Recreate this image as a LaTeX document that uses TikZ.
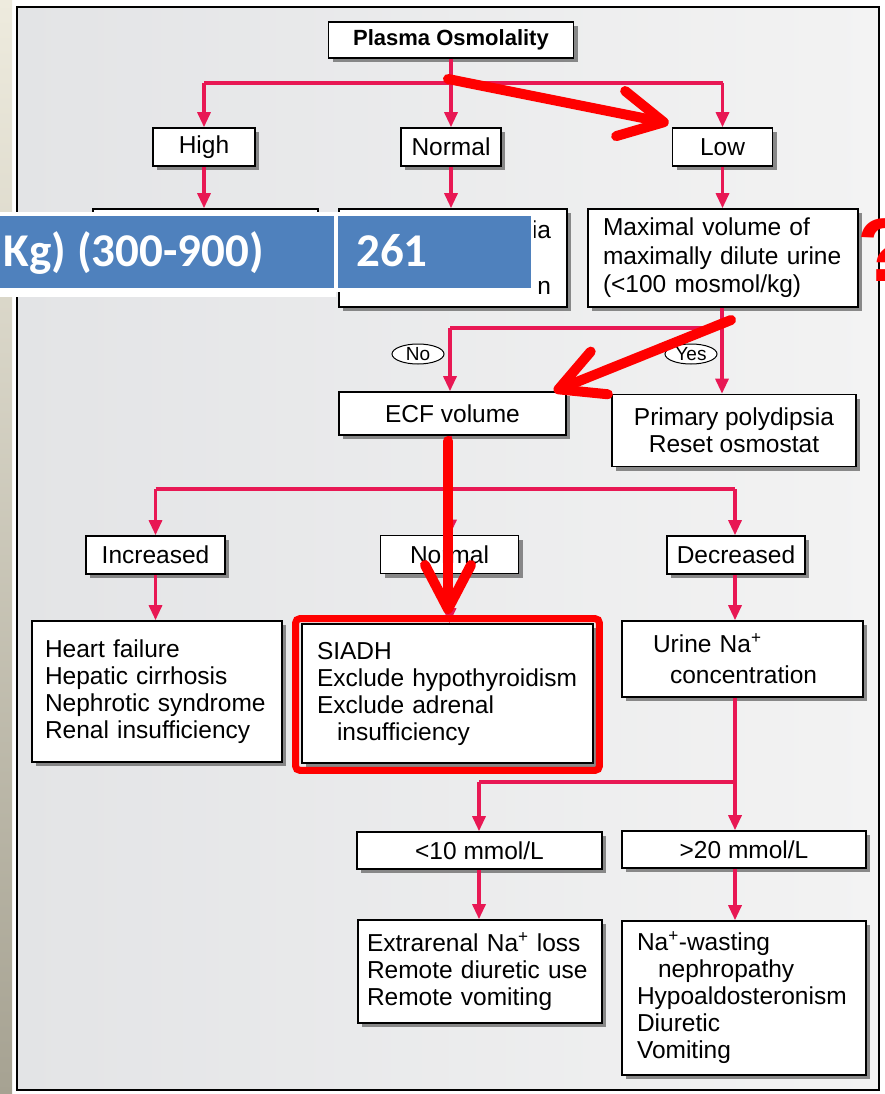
\documentclass[tikz,border=0pt]{standalone}
\usepackage{fontspec}
\setmainfont{Liberation Sans}
\newfontfamily\slidefont{Carlito}
\usetikzlibrary{arrows.meta,shadows,shapes.geometric}

\definecolor{linkpink}{RGB}{232,24,84}
\definecolor{panelleft}{RGB}{227,228,230}
\definecolor{panelright}{RGB}{243,243,243}
\definecolor{striptop}{RGB}{238,235,222}
\definecolor{stripbottom}{RGB}{166,162,146}
\definecolor{slideblue}{RGB}{79,129,189}

\begin{document}
\begin{tikzpicture}[
        x=1pt, y=-1pt,
        box/.style={draw=black, line width=1.6pt, fill=white,
            drop shadow={shadow xshift=4pt, shadow yshift=-4pt, fill=black!60, opacity=0.75},
            inner xsep=13pt, inner ysep=3pt, font=\fontsize{24.5}{27}\selectfont},
        tag/.style={box, inner xsep=6pt, minimum height=38pt},
        answer/.style={ellipse, draw=black, line width=1pt, fill=white, inner sep=0pt,
            minimum width=52pt, minimum height=20pt, font=\fontsize{19}{19}\selectfont},
        flow/.style={draw=linkpink, line width=3.2pt},
        flowto/.style={flow, -{Triangle[length=15pt,width=13pt]}},
        hint/.style={draw=red, line width=10pt, line cap=round,
            -{Straight Barb[length=44pt,width=46pt,round]}},
        cell/.style={text=white, inner sep=0pt, font=\slidefont\bfseries\fontsize{47}{47}\selectfont}
    ]
    \useasboundingbox (0,0) rectangle (885,1094);

    % slide background and panel
    \fill[white] (0,0) rectangle (885,1094);
    \shade[top color=striptop, bottom color=stripbottom] (0,0) rectangle (12,1094);
    \shadedraw[left color=panelleft, right color=panelright, draw=black, line width=1.5pt]
        (17,7) rectangle (879,1090);

    % first level
    \node[box, font=\bfseries\fontsize{22}{22}\selectfont, minimum width=245pt, minimum height=36pt] (plasma) at (451,40) {Plasma Osmolality};
    \node[tag, minimum width=102pt] (high) at (204,147) {High};
    \node[tag, minimum width=100pt] (normal) at (451,147) {Normal};
    \node[tag, minimum width=100pt] (low) at (722.5,147) {Low};

    % second level
    \node[box, minimum width=225pt, minimum height=76pt] (hiBox) at (205.5,247) {};
    \node[box, text width=196pt, inner xsep=16pt, minimum height=98pt, align=right,
        font=\fontsize{24.5}{28}\selectfont] (normBox) at (453,258) {ia\\\strut\\n};
    \node[box, text width=240pt, inner xsep=15pt, minimum height=98pt, align=left,
        font=\fontsize{24.5}{28.5}\selectfont] (maxBox) at (723,258)
        {Maximal volume of\\maximally dilute urine\\(<100 mosmol/kg)};

    \node[answer] (no) at (418,354) {No};
    \node[answer] (yes) at (691,354) {Yes};

    \node[box, minimum width=227pt, minimum height=43pt] (ecf) at (452.5,413.5) {ECF volume};
    \node[box, minimum width=244pt, minimum height=72pt, align=center] (prim) at (734,430.5)
        {Primary polydipsia\\Reset osmostat};

    % ECF branches
    \node[tag, minimum width=139pt] (incr) at (155.5,555) {Increased};
    \node[tag, minimum width=138pt] (norm) at (449.5,554.5) {Normal};
    \node[tag, minimum width=138pt] (decr) at (736,555) {Decreased};

    \node[box, text width=224pt, minimum height=141pt, align=left] (heart) at (157,691.5)
        {Heart failure\\Hepatic cirrhosis\\Nephrotic syndrome\\Renal insufficiency};
    \node[box, text width=261pt, inner xsep=15pt, minimum height=139pt, align=left] (siadh) at (447.5,693.5)
        {SIADH\\Exclude hypothyroidism\\Exclude adrenal\\\hspace*{20pt}insufficiency};
    \node[box, text width=179pt, inner xsep=31pt, minimum height=76pt, align=left,
        font=\fontsize{24.5}{31}\selectfont] (urine) at (742.5,659)
        {Urine Na\textsuperscript{+}\\\hspace*{17pt}concentration};

    % urine sodium
    \node[tag, minimum width=245pt, minimum height=37pt] (low10) at (479.5,850.5) {<10 mmol/L};
    \node[tag, minimum width=244pt, minimum height=37pt] (high20) at (744,849.5) {>20 mmol/L};

    \node[box, text width=226pt, inner xsep=9pt, minimum height=103pt, align=left] (extra) at (480,971.5)
        {Extrarenal Na\textsuperscript{+} loss\\Remote diuretic use\\Remote vomiting};
    \node[box, text width=214pt, inner xsep=15pt, minimum height=154pt, align=left] (wasting) at (744,998)
        {Na\textsuperscript{+}-wasting\\\hspace*{21pt}nephropathy\\Hypoaldosteronism\\Diuretic\\Vomiting};

    % connectors
    \coordinate (jOsm) at (451,83);
    \draw[flow] (plasma.south) -- (jOsm);
    \draw[flow] (high |- jOsm) -- (low |- jOsm);
    \draw[flowto] (high |- jOsm) -- (high);
    \draw[flowto] (jOsm) -- (normal);
    \draw[flowto] (low |- jOsm) -- (low);
    \draw[flowto] (high) -- (high |- hiBox.north);
    \draw[flowto] (normal) -- (normal |- normBox.north);
    \draw[flowto] (low) -- (low |- maxBox.north);

    \coordinate (jYes) at (722,328);
    \coordinate (jNo) at (450,328);
    \draw[flow] (maxBox.south -| jYes) -- (jYes) -- (jNo);
    \draw[flowto] (jNo) -- (jNo |- ecf.north);
    \draw[flowto] (jYes) -- (jYes |- prim.north);

    \coordinate (jEcf) at (450,489);
    \coordinate (jDecr) at (735,489);
    \draw[flow] (ecf.south -| jEcf) -- (jEcf);
    \draw[flow] (incr |- jEcf) -- (jDecr);
    \draw[flowto] (incr |- jEcf) -- (incr);
    \draw[flowto] (jEcf) -- (jEcf |- norm.north);
    \draw[flowto] (jDecr) -- (jDecr |- decr.north);
    \draw[flowto] (incr) -- (incr |- heart.north);
    \draw[flowto] (norm) -- (norm |- siadh.north);
    \draw[flowto] (jDecr |- decr.south) -- (jDecr |- urine.north);

    \coordinate (jUrine) at (735,782);
    \coordinate (jLow) at (479,782);
    \draw[flow] (urine.south -| jUrine) -- (jUrine) -- (jLow);
    \draw[flowto] (jLow) -- (jLow |- low10.north);
    \draw[flowto] (jUrine) -- (jUrine |- high20.north);
    \draw[flowto] (jLow |- low10.south) -- (jLow |- extra.north);
    \draw[flowto] (jUrine |- high20.south) -- (jUrine |- wasting.north);

    % slide table laid over the chart
    \fill[white] (0,212) rectangle (336,297);
    \fill[white] (336,212) rectangle (534,292);
    \fill[slideblue] (0,216) rectangle (334,288);
    \fill[slideblue] (338,216) rectangle (531,288);
    \node[cell, anchor=base east] (range) at (264,266) {Kg) (300-900)};
    \node[cell, anchor=base west] (value) at (356,266) {261};

    \node[anchor=west, text=red, inner sep=0pt, font=\bfseries\fontsize{90}{90}\selectfont] (query) at (857,250) {?};

    % red marks
    \coordinate (hintA) at (448,79);
    \coordinate (hintB) at (731,320);
    \coordinate (hintC) at (448,441);
    \coordinate (hintCend) at (448,614);
    \draw[hint] (hintA) -- ([xshift=-3pt,yshift=4pt]low.north west);
    \draw[hint] (hintB) -- ([xshift=-13pt]ecf.north east);
    \draw[hint] (hintC) -- (hintCend);
    \draw[red, line width=7pt, rounded corners=4pt]
        ([xshift=-5.5pt,yshift=4.5pt]siadh.north west) rectangle ([xshift=5.5pt,yshift=-6.5pt]siadh.south east);
\end{tikzpicture}
\end{document}
